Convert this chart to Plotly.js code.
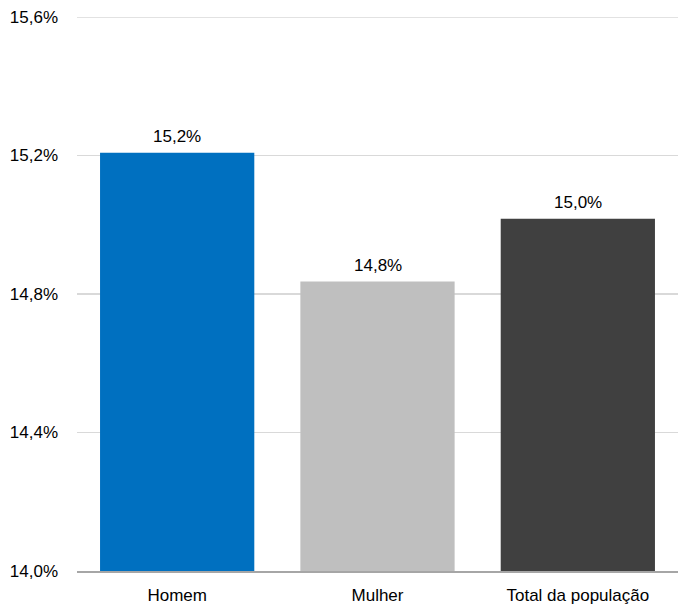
<!DOCTYPE html>
<html>
<head>
<meta charset="utf-8">
<script src="https://cdn.plot.ly/plotly-3.0.1.min.js"></script>
<style>html,body{margin:0;padding:0;background:#fff;}#chart{width:679px;height:608px;}</style>
</head>
<body>
<div id="chart"></div>
<script>
const categories = ["Homem", "Mulher", "Total da população"];
const values = [15.208, 14.836, 15.017];
const labels = ["15,2%", "14,8%", "15,0%"];
const colors = ["#0070C0", "#BFBFBF", "#404040"];
const tickVals = [14.0, 14.4, 14.8, 15.2, 15.6];
const tickText = ["14,0%", "14,4%", "14,8%", "15,2%", "15,6%"];

const FONT = '"Liberation Sans", Arial, sans-serif';

const trace = {
  type: 'bar',
  x: categories,
  y: values,
  marker: {color: colors},
  hoverinfo: 'none'
};

const annotations = categories.map((c, i) => ({
  x: c, y: values[i], xref: 'x', yref: 'y',
  text: labels[i], showarrow: false,
  yanchor: 'bottom', yshift: 5,
  font: {family: FONT, size: 17, color: '#000'}
}));

const topVal = tickVals[tickVals.length - 1];

const layout = {
  width: 679, height: 608,
  margin: {l: 77, r: 1, t: 17, b: 37},
  paper_bgcolor: '#fff', plot_bgcolor: '#fff',
  showlegend: false,
  bargap: 0.23,
  font: {family: FONT, size: 17, color: '#000'},
  annotations: annotations,
  shapes: [{
    type: 'line', xref: 'paper', yref: 'y',
    x0: 0, x1: 1, y0: topVal, y1: topVal,
    line: {color: '#D9D9D9', width: 1.5},
    layer: 'below'
  }],
  xaxis: {
    showgrid: false, zeroline: false,
    showline: true, linecolor: '#A6A6A6', linewidth: 2,
    ticks: '', ticklabelstandoff: 8,
    tickfont: {family: FONT, size: 17, color: '#000'}
  },
  yaxis: {
    range: [14.0, 15.6],
    tickvals: tickVals, ticktext: tickText,
    showgrid: true, gridcolor: '#D9D9D9', gridwidth: 1.5,
    zeroline: false, showline: false, ticks: '',
    ticklabelstandoff: 18,
    tickfont: {family: FONT, size: 17, color: '#000'}
  }
};

Plotly.newPlot('chart', [trace], layout, {staticPlot: true});
</script>
</body>
</html>
